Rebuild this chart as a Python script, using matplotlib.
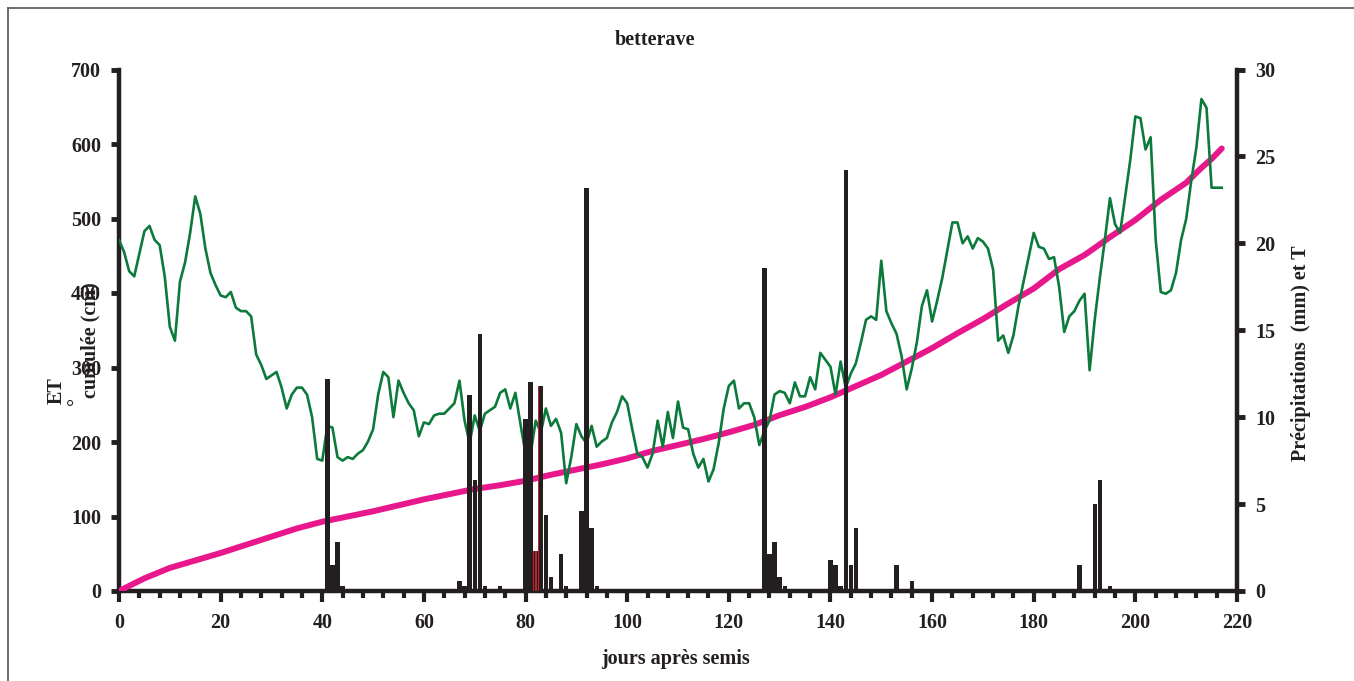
import matplotlib
matplotlib.use("Agg")
import matplotlib.pyplot as plt
import numpy as np
from matplotlib.ticker import MultipleLocator
from matplotlib.lines import Line2D

# ---------------- data ----------------
temperature = [
    20.2, 19.5, 18.4, 18.1, 19.4, 20.7, 21.0, 20.2, 19.9, 18.1,
    15.2, 14.4, 17.8, 18.9, 20.6, 22.7, 21.7, 19.7, 18.3, 17.6,
    17.0, 16.9, 17.2, 16.3, 16.1, 16.1, 15.8, 13.6, 13.0, 12.2,
    12.4, 12.6, 11.7, 10.5, 11.3, 11.7, 11.7, 11.3, 10.0, 7.6,
    7.5, 9.5, 9.4, 7.7, 7.5, 7.7, 7.6, 7.9, 8.1, 8.6,
    9.3, 11.3, 12.6, 12.3, 10.0, 12.1, 11.4, 10.8, 10.4, 8.9,
    9.7, 9.6, 10.1, 10.2, 10.2, 10.5, 10.8, 12.1, 9.8, 8.5,
    10.1, 9.2, 10.2, 10.4, 10.6, 11.4, 11.6, 10.5, 11.4, 9.6,
    7.9, 7.9, 9.8, 9.1, 10.5, 9.5, 9.9, 9.1, 6.2, 7.7,
    9.6, 8.9, 8.5, 9.5, 8.3, 8.6, 8.8, 9.7, 10.3, 11.2,
    10.8, 9.3, 7.9, 7.7, 7.1, 7.9, 9.8, 8.3, 10.3, 8.8,
    10.9, 9.4, 9.3, 7.9, 7.1, 7.6, 6.3, 7.0, 8.5, 10.5,
    11.8, 12.1, 10.5, 10.8, 10.8, 10.0, 8.4, 9.2, 9.8, 11.3,
    11.5, 11.4, 10.8, 12.0, 11.2, 11.2, 12.3, 11.6, 13.7, 13.3,
    12.9, 11.3, 13.2, 11.7, 12.5, 13.1, 14.3, 15.6, 15.8, 15.6,
    19.0, 16.1, 15.4, 14.8, 13.5, 11.6, 12.8, 14.3, 16.4, 17.3,
    15.5, 16.7, 18.0, 19.6, 21.2, 21.2, 20.0, 20.4, 19.7, 20.3,
    20.1, 19.7, 18.5, 14.4, 14.7, 13.7, 14.7, 16.4, 17.8, 19.2,
    20.6, 19.8, 19.7, 19.1, 19.2, 17.5, 14.9, 15.8, 16.1, 16.7,
    17.1, 12.7, 15.6, 18.0, 20.2, 22.6, 21.1, 20.6, 22.7, 24.8,
    27.3, 27.2, 25.4, 26.1, 20.2, 17.2, 17.1, 17.3, 18.3, 20.2,
    21.4, 23.6, 25.5, 28.3, 27.8, 23.2, 23.2, 23.2,
]
temp_days = list(range(len(temperature)))

et_days = [0, 5, 10, 15, 20, 25, 30, 35, 40, 45, 50, 55, 60, 65, 70, 75,
           80, 85, 90, 95, 100, 105, 110, 115, 120, 125, 130, 135, 140, 145,
           150, 155, 160, 165, 170, 175, 180, 185, 190, 195, 200, 205, 210,
           213, 215, 217]
et_cum = [0, 17, 31, 41, 51, 62, 73, 84, 93, 100, 107, 115, 123, 130, 137, 142,
          148, 156, 163, 170, 178, 188, 196, 204, 213, 223, 236, 247, 260, 275,
          290, 308, 326, 346, 365, 386, 406, 432, 451, 475, 498, 525, 548,
          568, 580, 594]

rain_days = [41, 42, 43, 44, 67, 68, 69, 70, 71, 72, 75, 80, 81, 82, 83, 84,
             85, 87, 88, 91, 92, 93, 94, 127, 128, 129, 130, 131, 140, 141,
             142, 143, 144, 145, 153, 156, 189, 192, 193, 195]
rain_mm = [12.2, 1.5, 2.8, 0.3, 0.6, 0.3, 11.3, 6.4, 14.8, 0.3, 0.3, 9.9,
           12.0, 2.3, 11.8, 4.4, 0.8, 2.1, 0.3, 4.6, 23.2, 3.6, 0.3, 18.6,
           2.1, 2.8, 0.8, 0.3, 1.8, 1.5, 0.3, 24.2, 1.5, 3.6, 1.5, 0.6, 1.5,
           5.0, 6.4, 0.3]

irrig_days = [80, 82, 83, 130]
irrig_mm = [9.9, 2.3, 11.8, 0.8]

# ---------------- style ----------------
plt.rcParams['font.family'] = ['Liberation Serif', 'DejaVu Serif']
plt.rcParams['font.weight'] = 'bold'

BAR = '#231f20'
GREEN = '#0b7a3b'
PINK = '#e8178c'
W, H = 1354, 681

fig = plt.figure(figsize=(W / 100, H / 100), dpi=100)
ax1 = fig.add_axes([119 / W, 1 - 591 / H, (1237 - 119) / W, (591 - 69.5) / H])
ax2 = ax1.twinx()

ax1.plot(et_days, et_cum, color=PINK, lw=4.3, solid_capstyle='round', zorder=3)

ax2.plot(temp_days, temperature, color=GREEN, lw=1.9, zorder=2)
ax2.bar([d - 0.3 for d in irrig_days], irrig_mm, width=0.5, color='#c8202a',
        zorder=3)
ax2.bar(rain_days, rain_mm, width=0.85, color=BAR, zorder=4)
ax2.bar([82], [2.3], width=0.35, color='#c8202a', zorder=5)

ax1.set_xlim(0, 220)
ax1.set_ylim(0, 700)
ax2.set_ylim(0, 30)

ax1.xaxis.set_major_locator(MultipleLocator(20))
ax1.xaxis.set_minor_locator(MultipleLocator(4))
ax1.yaxis.set_major_locator(MultipleLocator(100))
ax2.yaxis.set_major_locator(MultipleLocator(5))

for ax in (ax1, ax2):
    ax.spines['top'].set_visible(False)
    for s in ('left', 'right', 'bottom'):
        ax.spines[s].set_linewidth(3.2)
        ax.spines[s].set_color(BAR)
ax1.spines['right'].set_visible(False)
ax2.spines['left'].set_visible(False)
ax2.spines['bottom'].set_visible(False)

ax1.tick_params(axis='x', which='major', direction='out', length=8, width=3,
                color=BAR, labelsize=14.5, pad=8)
ax1.tick_params(axis='x', which='minor', direction='out', length=5, width=3,
                color=BAR)
ax1.tick_params(axis='y', which='major', direction='out', length=6, width=3.5,
                color=BAR, labelsize=14.5, pad=7)
ax2.tick_params(axis='y', which='major', direction='out', length=6, width=3.5,
                color=BAR, labelsize=14.5, pad=7)
for lab in ax1.get_xticklabels() + ax1.get_yticklabels() + ax2.get_yticklabels():
    lab.set_fontweight('bold')
    lab.set_color(BAR)

# texts
fig.text(655 / W, 1 - 40 / H, 'betterave', ha='center', va='center',
         fontsize=14.5, fontweight='bold', color=BAR)
fig.text(676 / W, 1 - 659 / H, 'jours après semis', ha='center', va='center',
         fontsize=14.5, fontweight='bold', color=BAR)
fig.text(57 / W, 1 - 391 / H, 'ET', ha='center', va='center', rotation=90,
         fontsize=14.5, fontweight='bold', color=BAR)
fig.text(77 / W, 1 - 401 / H, '°', ha='center', va='center', rotation=90,
         fontsize=14.5, fontweight='bold', color=BAR)
fig.text(90 / W, 1 - 340 / H, 'cumulée (cm)', ha='center', va='center',
         rotation=90, fontsize=14.5, fontweight='bold', color=BAR)
fig.text(1301 / W, 1 - 353 / H, 'Précipitations  (mm) et T', ha='center',
         va='center', rotation=90, fontsize=14.5, fontweight='bold', color=BAR)

# outer frame
fig.add_artist(Line2D([8 / W, 8 / W], [0, 1 - 8 / H], color='#555555', lw=1.2,
                      transform=fig.transFigure))
fig.add_artist(Line2D([8 / W, 1], [1 - 8 / H, 1 - 8 / H], color='#555555',
                      lw=1.2, transform=fig.transFigure))

fig.savefig('out.png', dpi=100)
